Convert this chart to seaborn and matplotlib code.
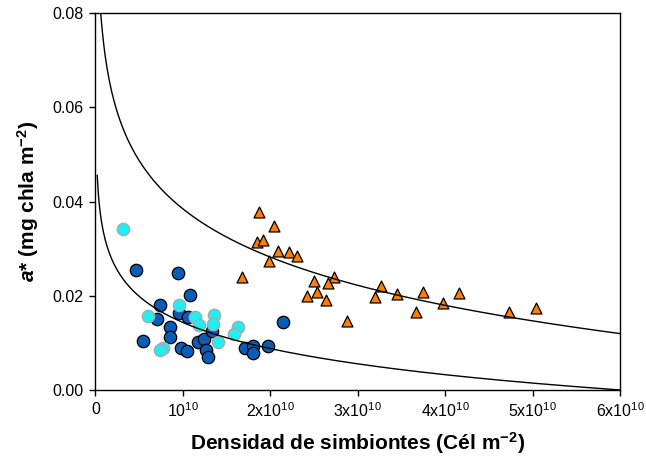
import numpy as np
import pandas as pd
import matplotlib
matplotlib.use("Agg")
import matplotlib.pyplot as plt
import seaborn as sns

# Symbiont density (units of 1e10 cells m-2) and a* (mg chl a m-2) per group
dens_azul = [0.460, 0.938, 1.086, 0.732, 0.707, 0.958, 1.061, 0.854, 0.849, 0.547,
             0.978, 1.043, 1.175, 1.238, 1.269, 1.290, 1.332, 1.709, 1.804, 1.806,
             1.978, 2.147]
astar_azul = [0.0255, 0.0249, 0.0202, 0.0181, 0.0150, 0.0163, 0.0156, 0.0133, 0.0113, 0.0104,
              0.0090, 0.0083, 0.0102, 0.0108, 0.0085, 0.0070, 0.0126, 0.0089, 0.0093, 0.0079,
              0.0094, 0.0145]

dens_cian = [0.318, 0.595, 0.960, 1.138, 1.189, 1.355, 1.349, 1.404, 1.633, 1.586,
             0.775, 0.737]
astar_cian = [0.0341, 0.0158, 0.0181, 0.0155, 0.0137, 0.0159, 0.0141, 0.0101, 0.0133, 0.0118,
              0.0090, 0.0084]

dens_naranja = [1.873, 2.044, 1.850, 1.918, 2.090, 2.216, 2.300, 1.984, 1.671, 2.727,
                2.501, 2.655, 2.529, 2.421, 2.635, 2.879, 3.267, 3.192, 3.450, 3.744,
                3.668, 3.969, 4.159, 4.731, 5.036]
astar_naranja = [0.0379, 0.0348, 0.0315, 0.0319, 0.0295, 0.0294, 0.0285, 0.0274, 0.0239, 0.0241,
                 0.0232, 0.0227, 0.0208, 0.0199, 0.0192, 0.0147, 0.0220, 0.0198, 0.0204, 0.0208,
                 0.0165, 0.0185, 0.0207, 0.0165, 0.0174]

# Logarithmic fits: a* = B * ln(K / x)
ajuste_inf_B, ajuste_inf_K = 0.0080, 6.0e10
ajuste_sup_B, ajuste_sup_K = 0.01478, 1.349e11

xtick_vals = [0, 1e10, 2e10, 3e10, 4e10, 5e10, 6e10]
xtick_labels = ["0", r"10$^{10}$", r"2x10$^{10}$", r"3x10$^{10}$",
                r"4x10$^{10}$", r"5x10$^{10}$", r"6x10$^{10}$"]
ytick_vals = [0.00, 0.02, 0.04, 0.06, 0.08]

sns.set_style("ticks")
plt.rcParams["font.family"] = ["Liberation Sans", "DejaVu Sans"]
plt.rcParams["text.color"] = "black"
plt.rcParams["axes.labelcolor"] = "black"
plt.rcParams["xtick.color"] = "black"
plt.rcParams["ytick.color"] = "black"
plt.rcParams["mathtext.fontset"] = "custom"
plt.rcParams["mathtext.rm"] = "Liberation Sans"
plt.rcParams["mathtext.bf"] = "Liberation Sans:bold"
plt.rcParams["mathtext.it"] = "Liberation Sans:bold:italic"

def tabla(dens, astar, grupo):
    return pd.DataFrame({"dens": np.asarray(dens) * 1e10, "astar": astar, "grupo": grupo})

df_azul = tabla(dens_azul, astar_azul, "azul")
df_cian = tabla(dens_cian, astar_cian, "cian")
df_nar = tabla(dens_naranja, astar_naranja, "naranja")

xs = np.linspace(2e8, 6e10, 600)
df_curvas = pd.concat([
    pd.DataFrame({"dens": xs, "astar": ajuste_inf_B * np.log(ajuste_inf_K / xs), "curva": "inf"}),
    pd.DataFrame({"dens": xs, "astar": ajuste_sup_B * np.log(ajuste_sup_K / xs), "curva": "sup"}),
])

fig = plt.figure(figsize=(6.46, 4.63), dpi=100)
ax = fig.add_axes([0.1478, 0.1577, 0.9602 - 0.1478, 0.9713 - 0.1577])

sns.scatterplot(data=df_azul, x="dens", y="astar", ax=ax, color="#0a5cb5",
                edgecolor="black", linewidth=0.9, s=80, marker="o", zorder=3, legend=False)
sns.scatterplot(data=df_cian, x="dens", y="astar", ax=ax, color="#22eef2",
                edgecolor="#a8a8a8", linewidth=0.9, s=80, marker="o", zorder=4, legend=False)
sns.scatterplot(data=df_nar, x="dens", y="astar", ax=ax, color="#ff8000",
                edgecolor="black", linewidth=0.9, s=62, marker="^", zorder=5, legend=False)
sns.lineplot(data=df_curvas, x="dens", y="astar", units="curva", estimator=None,
             color="black", linewidth=1.0, ax=ax, zorder=6, legend=False, sort=False)

ax.set_xlim(0, 6e10)
ax.set_ylim(0, 0.08)
ax.set_xticks(xtick_vals)
ax.set_xticklabels(xtick_labels)
ax.set_yticks(ytick_vals)
ax.set_yticklabels([f"{v:.2f}" for v in ytick_vals])
ax.tick_params(axis="both", direction="out", length=4.5, width=1.0,
               labelsize=11.5, colors="black", pad=4)

for side in ["left", "bottom", "top", "right"]:
    ax.spines[side].set_visible(True)
    ax.spines[side].set_color("black")
    ax.spines[side].set_linewidth(1.0)

ax.set_xlabel(r"Densidad de simbiontes (Cél m$^{\mathbf{-2}}$)",
              fontsize=15, fontweight="bold", labelpad=7, color="black")
ax.set_ylabel(r"$\mathit{a}$* (mg chla m$^{\mathbf{-2}}$)",
              fontsize=15, fontweight="bold", labelpad=8, color="black")

fig.savefig("out.png", dpi=100)
